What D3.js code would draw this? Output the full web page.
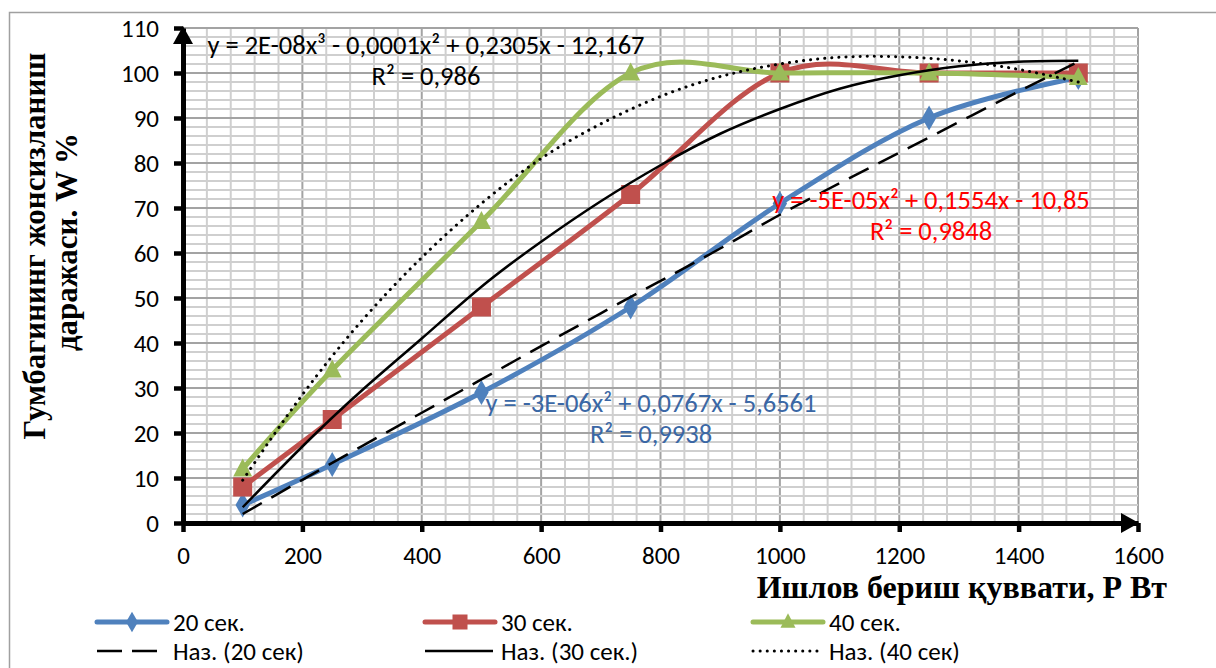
<!DOCTYPE html>
<html>
<head>
<meta charset="utf-8">
<script src="https://cdn.jsdelivr.net/npm/d3@7"></script>
<style>
  html, body { margin: 0; padding: 0; background: #fff; }
  svg { display: block; }
  .sans { font-family: Carlito, Lato, "Open Sans", sans-serif; }
  .serif { font-family: "Liberation Serif", "DejaVu Serif", serif; font-weight: bold; }
</style>
</head>
<body>
<div id="chart"></div>
<script>
// measured points (power, W %)
var powers = [100, 250, 500, 750, 1000, 1250, 1500];
var sec20 = [4, 13, 29, 48, 71, 90, 99];
var sec30 = [8, 23, 48, 73, 100, 100, 100];
var sec40 = [12, 34, 67, 100, 100, 100, 99];

// trend lines, every 100 W
var trendX = [100, 200, 300, 400, 500, 600, 700, 800, 900, 1000, 1100, 1200, 1300, 1400, 1500];
var trend20 = [2, 9.6, 17.1, 24.5, 31.9, 39.3, 46.6, 53.8, 61, 68.5, 75.5, 82.3, 89.1, 95.9, 102.5];
var trend30 = [3.5, 17, 29.5, 41, 52.5, 62.5, 71.5, 79.5, 86.5, 92, 96.5, 99.5, 101.5, 102.5, 102.7];
var trend40 = [9.5, 28.5, 45, 59, 71, 81, 88.7, 94.8, 99.2, 102, 103.5, 103.6, 102.7, 100.8, 98];

var xTicks = [0, 200, 400, 600, 800, 1000, 1200, 1400, 1600];
var yTicks = [0, 10, 20, 30, 40, 50, 60, 70, 80, 90, 100, 110];

var seriesNames = ["20 сек.", "30 сек.", "40 сек."];
var trendNames = ["Наз. (20 сек)", "Наз. (30 сек.)", "Наз. (40 сек)"];
var colors = ["#4f81bd", "#c0504d", "#9bbb59"];
var eqColors = ["#3a67a5", "#ff0000", "#000000"];

var width = 1216, height = 668;

var x = d3.scaleLinear().domain([0, 1600]).range([183, 1138]);
var y = d3.scaleLinear().domain([0, 110]).range([523, 28]);

var svg = d3.select("#chart").append("svg")
    .attr("width", width)
    .attr("height", height);

// chart frame
svg.append("rect")
    .attr("x", 9.5).attr("y", 12.5)
    .attr("width", 1230).attr("height", 700)
    .attr("fill", "#fff")
    .attr("stroke", "#a0a0a0")
    .attr("stroke-width", 1.5);

// grid
var grid = svg.append("g");
grid.selectAll(".vmin")
    .data(d3.range(0, 1601, 40))
    .enter().append("line")
    .attr("x1", d => x(d)).attr("x2", d => x(d))
    .attr("y1", y(0)).attr("y2", y(110))
    .attr("stroke", d => d % 200 == 0 ? "#a3a3a3" : "#cfcfcf")
    .attr("stroke-width", 2);
grid.selectAll(".hmin")
    .data(d3.range(0, 111, 2))
    .enter().append("line")
    .attr("y1", d => y(d)).attr("y2", d => y(d))
    .attr("x1", x(0)).attr("x2", x(1600))
    .attr("stroke", d => d % 10 == 0 ? "#a3a3a3" : "#cfcfcf")
    .attr("stroke-width", 2);

// data series
var smooth = d3.line()
    .x(d => x(d[0]))
    .y(d => y(d[1]))
    .curve(d3.curveCatmullRom.alpha(0));

var allSeries = [sec20, sec30, sec40];

function marker(sel, i, size) {
    if (i == 0) {
        sel.append("path").attr("d", d3.symbol(d3.symbolDiamond, size * size * 0.55)());
    } else if (i == 1) {
        sel.append("rect").attr("x", -size / 2).attr("y", -size / 2)
            .attr("width", size).attr("height", size);
    } else {
        var h = size * 0.9;
        sel.append("path").attr("d", "M0," + (-h / 2 - 2) + "L" + (size / 2) + "," + (h / 2 - 1) + "L" + (-size / 2) + "," + (h / 2 - 1) + "Z");
    }
}

allSeries.forEach(function(vals, i) {
    var pts = powers.map((p, k) => [p, vals[k]]);
    svg.append("path")
        .attr("d", smooth(pts))
        .attr("fill", "none")
        .attr("stroke", colors[i])
        .attr("stroke-width", 5)
        .attr("stroke-linejoin", "round")
        .attr("stroke-linecap", "round");
    svg.append("g").selectAll("g")
        .data(pts)
        .enter().append("g")
        .attr("transform", d => "translate(" + x(d[0]) + "," + y(d[1]) + ")")
        .attr("fill", colors[i])
        .each(function() { marker(d3.select(this), i, i == 0 ? 18 : 19); });
});

// trend lines
var trendLine = d3.line()
    .x(d => x(d[0]))
    .y(d => y(d[1]))
    .curve(d3.curveNatural);

var trendStyles = [
    { dash: "22,11", cap: "butt", w: 2.5 },
    { dash: null, cap: "butt", w: 2.5 },
    { dash: "0.1,7", cap: "round", w: 3 }
];

[trend20, trend30, trend40].forEach(function(vals, i) {
    var pts = trendX.map((p, k) => [p, vals[k]]);
    svg.append("path")
        .attr("d", trendLine(pts))
        .attr("fill", "none")
        .attr("stroke", "#000")
        .attr("stroke-width", trendStyles[i].w)
        .attr("stroke-dasharray", trendStyles[i].dash)
        .attr("stroke-linecap", trendStyles[i].cap);
});

// equations
var equations = [
    { lines: ["y = -3E-06x² + 0,0767x - 5,6561", "R² = 0,9938"], cx: 651, cy: 403 },
    { lines: ["y = -5E-05x² + 0,1554x - 10,85", "R² = 0,9848"], cx: 931, cy: 200 },
    { lines: ["y = 2E-08x³ - 0,0001x² + 0,2305x - 12,167", "R² = 0,986"], cx: 426, cy: 45 }
];
equations.forEach(function(eq, i) {
    eq.lines.forEach(function(t, k) {
        svg.append("text")
            .attr("class", "sans")
            .attr("x", eq.cx)
            .attr("y", eq.cy + k * 31)
            .attr("dy", "0.35em")
            .attr("text-anchor", "middle")
            .attr("font-size", 26.5)
            .attr("fill", eqColors[i])
            .text(t);
    });
});

// axes
var yAxis = svg.append("g")
    .attr("transform", "translate(" + x(0) + ",0)")
    .call(d3.axisLeft(y).tickValues(yTicks).tickSize(9).tickSizeOuter(0).tickPadding(15));
var xAxis = svg.append("g")
    .attr("transform", "translate(0," + y(0) + ")")
    .call(d3.axisBottom(x).tickValues(xTicks).tickFormat(d3.format("d"))
        .tickSize(9).tickSizeOuter(0).tickPadding(14));

[yAxis, xAxis].forEach(function(a) {
    a.select(".domain").attr("stroke", "#000").attr("stroke-width", 5);
    a.selectAll(".tick line").attr("stroke", "#000").attr("stroke-width", 4.5);
    a.selectAll(".tick text")
        .attr("class", "sans")
        .attr("font-size", 25)
        .attr("fill", "#000");
});

// arrow heads
svg.append("path")
    .attr("d", "M" + x(0) + "," + (y(110) - 2) + "l10,18l-20,0z")
    .attr("fill", "#000");
svg.append("path")
    .attr("d", "M" + (x(1600) + 1) + "," + y(0) + "l-18,-10l0,20z")
    .attr("fill", "#000");

// axis titles
svg.append("text")
    .attr("class", "serif")
    .attr("transform", "translate(45,246) rotate(-90)")
    .attr("text-anchor", "middle")
    .attr("font-size", 31)
    .text("Гумбагининг жонсизланиш");
svg.append("text")
    .attr("class", "serif")
    .attr("transform", "translate(77,242) rotate(-90)")
    .attr("text-anchor", "middle")
    .attr("font-size", 31)
    .text("даражаси. W %");
svg.append("text")
    .attr("class", "serif")
    .attr("x", 1167)
    .attr("y", 598)
    .attr("text-anchor", "end")
    .attr("font-size", 32)
    .text("Ишлов бериш қуввати, Р Вт");

// legend
var legendCols = [97, 425, 753];
var legend = svg.append("g").attr("class", "sans");

seriesNames.forEach(function(name, i) {
    var g = legend.append("g").attr("transform", "translate(" + legendCols[i] + ",622)");
    g.append("line").attr("x1", 0).attr("x2", 70)
        .attr("stroke", colors[i]).attr("stroke-width", 5).attr("stroke-linecap", "round");
    var m = g.append("g").attr("transform", "translate(35,0)").attr("fill", colors[i]);
    marker(m, i, 15);
    g.append("text").attr("x", 76).attr("dy", "0.35em").attr("font-size", 25).text(name);
});

trendNames.forEach(function(name, i) {
    var g = legend.append("g").attr("transform", "translate(" + legendCols[i] + ",651)");
    g.append("line").attr("x1", 0).attr("x2", i == 0 ? 60 : 68)
        .attr("stroke", "#000")
        .attr("stroke-width", trendStyles[i].w)
        .attr("stroke-dasharray", i == 0 ? "25,10" : trendStyles[i].dash)
        .attr("stroke-linecap", trendStyles[i].cap);
    g.append("text").attr("x", 76).attr("dy", "0.35em").attr("font-size", 25).text(name);
});
</script>
</body>
</html>
